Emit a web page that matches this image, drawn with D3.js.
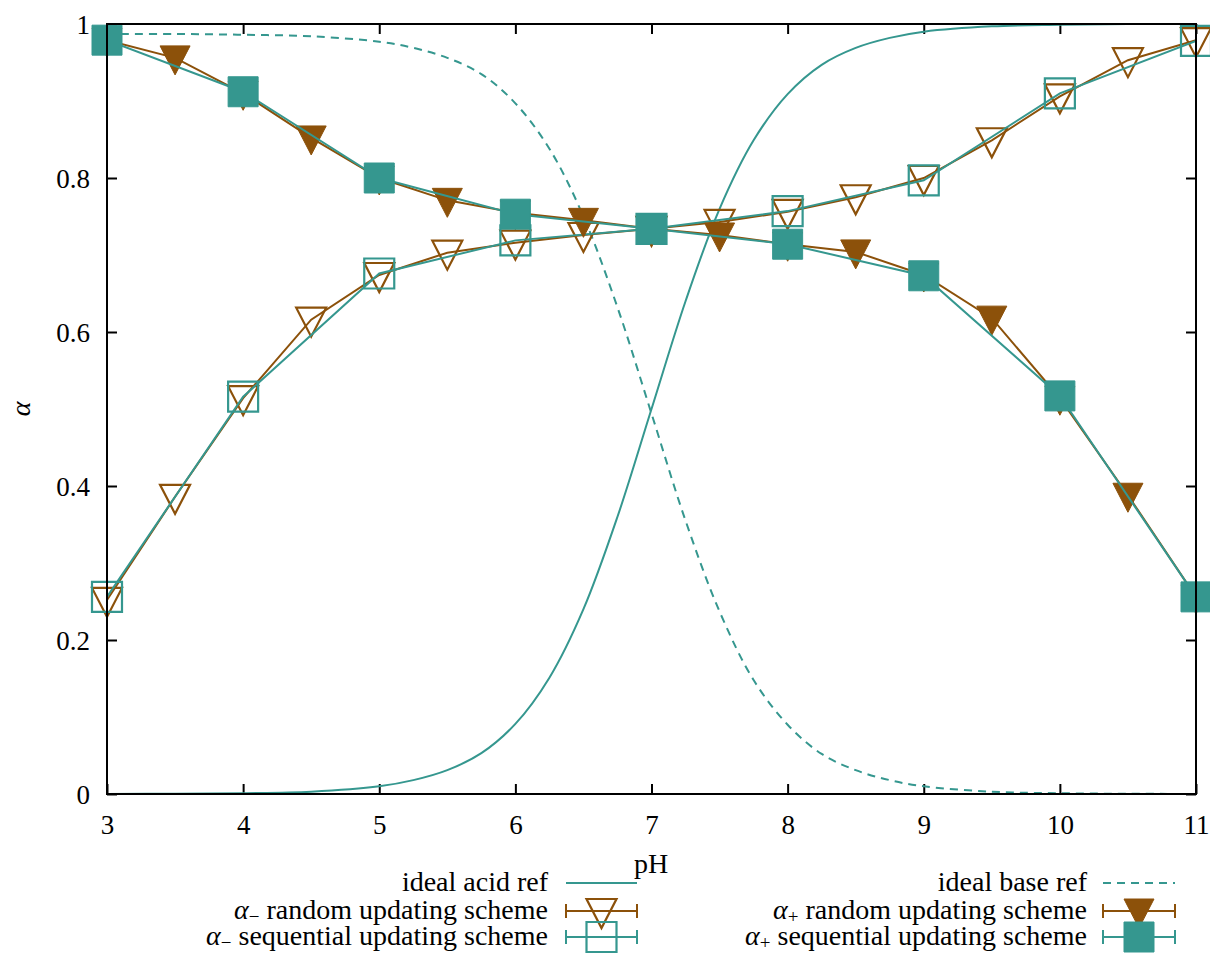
<!DOCTYPE html>
<html>
<head>
<meta charset="utf-8">
<script src="https://cdn.jsdelivr.net/npm/d3@7"></script>
<style>
  body { margin: 0; background: #fff; }
</style>
</head>
<body>
<div id="chart"></div>
<script>

// data
var phHalf = [3, 3.5, 4, 4.5, 5, 5.5, 6, 6.5, 7, 7.5, 8, 8.5, 9, 9.5, 10, 10.5, 11];
var phWhole = [3, 4, 5, 6, 7, 8, 9, 10, 11];

var minusRandom = [0.252, 0.386, 0.514, 0.616, 0.674, 0.703, 0.716, 0.726, 0.734, 0.743, 0.756, 0.775, 0.800, 0.849, 0.906, 0.953, 0.979];
var minusSeq = [0.256, 0.516, 0.676, 0.719, 0.734, 0.757, 0.797, 0.910, 0.978];
var plusRandom = [0.979, 0.956, 0.910, 0.852, 0.800, 0.771, 0.755, 0.745, 0.734, 0.726, 0.714, 0.704, 0.674, 0.618, 0.514, 0.388, 0.256];
var plusSeq = [0.979, 0.912, 0.800, 0.753, 0.734, 0.714, 0.673, 0.517, 0.256];

var phRef = [3, 3.5, 4, 4.5, 5, 5.25, 5.5, 5.75, 6, 6.25, 6.5, 6.75, 7, 7.25, 7.5, 7.75, 8, 8.25, 8.5, 8.75, 9, 9.5, 10, 10.5, 11];
var acidRef = [0.0001, 0.0003, 0.001, 0.003, 0.010, 0.018, 0.031, 0.053, 0.091, 0.151, 0.240, 0.360, 0.500, 0.640, 0.760, 0.849, 0.909, 0.947, 0.969, 0.982, 0.990, 0.997, 0.999, 1.0, 1.0];
var baseRef = [0.987, 0.987, 0.986, 0.984, 0.977, 0.969, 0.956, 0.935, 0.897, 0.838, 0.750, 0.632, 0.494, 0.355, 0.237, 0.148, 0.090, 0.052, 0.031, 0.018, 0.010, 0.003, 0.001, 0.0003, 0.0001];

var xTicks = [3, 4, 5, 6, 7, 8, 9, 10, 11];
var yTicks = [0, 0.2, 0.4, 0.6, 0.8, 1];

var brown = "#8c510a", teal = "#35978f";
var serif = "Liberation Serif";

var width = 1210, height = 953;
var margin = {top: 24, right: 14, bottom: 159, left: 107};
var w = width - margin.left - margin.right,
    h = height - margin.top - margin.bottom;

var svg = d3.select("#chart").append("svg")
    .attr("width", width)
    .attr("height", height)
    .attr("font-family", serif);

var g = svg.append("g")
    .attr("transform", "translate(" + margin.left + "," + margin.top + ")");

var x = d3.scaleLinear().domain([3, 11]).range([0, w]);
var y = d3.scaleLinear().domain([0, 1]).range([h, 0]);

svg.append("defs").append("clipPath").attr("id", "clip")
    .append("rect").attr("width", w).attr("height", h);

// axes, ticks pointing inward like gnuplot
var tickFont = 27;
var xAxis = g.append("g").attr("transform", "translate(0," + h + ")")
    .call(d3.axisBottom(x).tickValues(xTicks).tickSize(-10).tickPadding(21).tickFormat(d3.format("d")));
var yAxis = g.append("g")
    .call(d3.axisLeft(y).tickValues(yTicks).tickSize(-10).tickPadding(17).tickFormat(function(d){ return d3.format("~g")(d); }));
g.append("g").call(d3.axisTop(x).tickValues(xTicks).tickSize(-10).tickFormat(""));
g.append("g").attr("transform", "translate(" + w + ",0)")
    .call(d3.axisRight(y).tickValues(yTicks).tickSize(-10).tickFormat(""));
g.selectAll(".domain").remove();
g.selectAll("g").attr("font-family", serif).attr("font-size", tickFont);
g.selectAll(".tick line").attr("stroke", "#000").attr("stroke-width", 2);
g.selectAll(".tick text").attr("font-size", tickFont).attr("font-family", serif).attr("fill", "#000");
xAxis.selectAll(".tick text").attr("dy", "0.71em");
yAxis.selectAll(".tick text").attr("dy", "0.34em");

function pairs(xs, ys) { return xs.map(function(d, i){ return [d, ys[i]]; }); }

var smooth = d3.line().x(function(d){ return x(d[0]); }).y(function(d){ return y(d[1]); })
    .curve(d3.curveCatmullRom.alpha(0.5));
var straight = d3.line().x(function(d){ return x(d[0]); }).y(function(d){ return y(d[1]); });

var lines = g.append("g").attr("clip-path", "url(#clip)");

lines.append("path").datum(pairs(phRef, acidRef))
    .attr("d", smooth).attr("fill", "none").attr("stroke", teal).attr("stroke-width", 2);
lines.append("path").datum(pairs(phRef, baseRef))
    .attr("d", smooth).attr("fill", "none").attr("stroke", teal).attr("stroke-width", 2)
    .attr("stroke-dasharray", "8,6");

var tri = "M-15,-12L15,-12L0,17Z";
var sq = "M-15,-15L15,-15L15,15L-15,15Z";

var series = [
  {xs: phHalf, ys: minusRandom, color: brown, shape: tri, filled: false},
  {xs: phWhole, ys: minusSeq, color: teal, shape: sq, filled: false},
  {xs: phHalf, ys: plusRandom, color: brown, shape: tri, filled: true},
  {xs: phWhole, ys: plusSeq, color: teal, shape: sq, filled: true}
];

series.forEach(function(s) {
  var pts = pairs(s.xs, s.ys);
  g.append("path").datum(pts).attr("clip-path", "url(#clip)")
      .attr("d", straight).attr("fill", "none").attr("stroke", s.color).attr("stroke-width", 2);
  g.append("g").selectAll("path").data(pts).enter().append("path")
      .attr("d", s.shape)
      .attr("transform", function(d){ return "translate(" + x(d[0]) + "," + y(d[1]) + ")"; })
      .attr("fill", s.filled ? s.color : "none")
      .attr("stroke", s.color)
      .attr("stroke-width", s.filled ? 1 : 2.2)
      .attr("stroke-linejoin", "miter");
});

// frame on top
g.append("rect").attr("width", w).attr("height", h)
    .attr("fill", "none").attr("stroke", "#000").attr("stroke-width", 2);

// axis titles
svg.append("text").attr("x", 651).attr("y", 873).attr("text-anchor", "middle")
    .attr("font-size", 28).attr("font-family", serif).text("pH");
svg.append("text").attr("transform", "translate(30,409)rotate(-90)")
    .attr("text-anchor", "middle").attr("font-size", 28).attr("font-style", "italic")
    .attr("font-family", serif).text("α");

// legend
var legendFont = 28;
var legendItems = [
  {col: 0, row: 0, sub: null, label: "ideal acid ref", color: teal, dash: null, shape: null},
  {col: 0, row: 1, sub: "\u2212", label: " random updating scheme", color: brown, shape: tri, filled: false},
  {col: 0, row: 2, sub: "\u2212", label: " sequential updating scheme", color: teal, shape: sq, filled: false},
  {col: 1, row: 0, sub: null, label: "ideal base ref", color: teal, dash: "8,6", shape: null},
  {col: 1, row: 1, sub: "+", label: " random updating scheme", color: brown, shape: tri, filled: true},
  {col: 1, row: 2, sub: "+", label: " sequential updating scheme", color: teal, shape: sq, filled: true}
];
var colText = [548, 1087], colSample = [[566, 637], [1103, 1175]];
var rowY = [883, 911, 937];

legendItems.forEach(function(d) {
  var ly = rowY[d.row];
  var t = svg.append("text").attr("x", colText[d.col]).attr("y", ly + 8)
      .attr("text-anchor", "end").attr("font-size", legendFont).attr("font-family", serif);
  if (d.sub) {
    t.append("tspan").attr("font-style", "italic").text("α");
    t.append("tspan").attr("dy", 4).attr("font-size", 19).text(d.sub);
    t.append("tspan").attr("dy", -4).text(d.label);
  } else {
    t.text(d.label);
  }
  var x0 = colSample[d.col][0], x1 = colSample[d.col][1];
  svg.append("line").attr("x1", x0).attr("x2", x1).attr("y1", ly).attr("y2", ly)
      .attr("stroke", d.color).attr("stroke-width", 2)
      .attr("stroke-dasharray", d.dash || null);
  if (d.shape) {
    [x0, x1].forEach(function(cx) {
      svg.append("line").attr("x1", cx).attr("x2", cx).attr("y1", ly - 7).attr("y2", ly + 7)
          .attr("stroke", d.color).attr("stroke-width", 2);
    });
    svg.append("path").attr("d", d.shape)
        .attr("transform", "translate(" + ((x0 + x1) / 2) + "," + ly + ")")
        .attr("fill", d.filled ? d.color : "none")
        .attr("stroke", d.color).attr("stroke-width", d.filled ? 1 : 2.2);
  }
});

</script>
</body>
</html>
